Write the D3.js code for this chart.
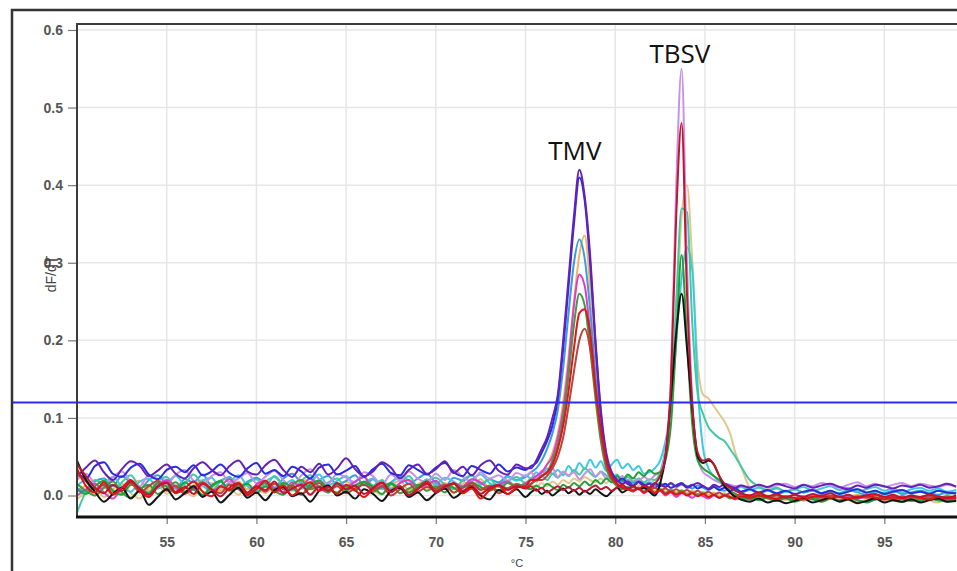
<!DOCTYPE html>
<html>
<head>
<meta charset="utf-8">
<script src="https://cdn.jsdelivr.net/npm/d3@7"></script>
<style>
  body { margin: 0; background: #fff; }
  svg { display: block; }
</style>
</head>
<body>
<svg id="viz"></svg>
<script>
// melt temperatures (°C), shared by every well; finer steps around the peaks
const temps = [
  50, 50.5, 51, 51.5, 52, 52.5, 53, 53.5, 54, 54.5,
  55, 55.5, 56, 56.5, 57, 57.5, 58, 58.5, 59, 59.5,
  60, 60.5, 61, 61.5, 62, 62.5, 63, 63.5, 64, 64.5,
  65, 65.5, 66, 66.5, 67, 67.5, 68, 68.5, 69, 69.5,
  70, 70.5, 71, 71.5, 72, 72.5, 73, 73.5, 74, 74.5,
  75, 75.3, 75.6, 75.9, 76.2, 76.5, 76.8, 77.1, 77.4, 77.7,
  78, 78.3, 78.6, 78.9, 79.2, 79.5, 79.8, 80.1, 80.4, 80.7,
  81, 81.3, 81.6, 81.9, 82.2, 82.5, 82.8, 83.1, 83.4, 83.7,
  84, 84.3, 84.6, 84.9, 85.2, 85.5, 85.8, 86.1, 86.4, 86.7,
  87, 87.5, 88, 88.5, 89, 89.5, 90, 90.5, 91, 91.5,
  92, 92.5, 93, 93.5, 94, 94.5, 95, 95.5, 96, 96.5,
  97, 97.5, 98, 98.5, 99
];

// dF/dT per well
// TMV wells (peak ~78 °C)
const blue = [
  .030,.022,.038,.043,.028,.024,.036,.041,.027,.021,
  .033,.037,.030,.039,.026,.031,.040,.029,.024,.035,
  .042,.028,.033,.025,.037,.031,.022,.036,.040,.027,
  .032,.038,.024,.034,.041,.029,.026,.039,.033,.027,
  .036,.042,.030,.025,.038,.033,.028,.040,.031,.036,
  .033,.038,.042,.055,.070,.090,.125,.190,.270,.350,
  .410,.380,.300,.195,.105,.050,.028,.018,.022,.015,
  .012,.018,.014,.010,.016,.012,.015,.010,.013,.016,
  .011,.014,.009,.012,.008,.011,.007,.010,.006,.009,
  .005,.008,.004,.007,.003,.006,.002,.005,.007,.003,
  .006,.002,.005,.008,.004,.006,.002,.005,.007,.003,
  .005,.002,.006,.004,.003
];
const purple = [
  .024,.036,.045,.030,.020,.034,.044,.038,.025,.032,
  .040,.028,.022,.035,.043,.033,.026,.038,.045,.031,
  .027,.039,.046,.033,.024,.037,.030,.041,.027,.035,
  .048,.034,.025,.031,.043,.036,.022,.033,.040,.028,
  .034,.044,.029,.037,.026,.039,.045,.032,.027,.040,
  .035,.035,.045,.060,.075,.100,.130,.200,.280,.360,
  .420,.385,.310,.200,.110,.055,.030,.020,.015,.018,
  .013,.017,.012,.015,.010,.014,.011,.016,.012,.015,
  .010,.013,.016,.012,.009,.014,.011,.015,.012,.010,
  .013,.010,.014,.011,.015,.012,.009,.014,.010,.013,
  .015,.011,.008,.013,.010,.014,.012,.009,.013,.011,
  .014,.010,.012,.015,.011
];
const lightBlue = [
  .010,.005,.018,.022,.012,.025,.016,.008,.020,.026,
  .014,.009,.021,.017,.027,.013,.019,.024,.011,.018,
  .023,.015,.010,.022,.028,.016,.012,.020,.025,.014,
  .019,.026,.013,.021,.010,.017,.024,.015,.022,.028,
  .016,.011,.023,.019,.026,.014,.021,.017,.025,.020,
  .024,.030,.035,.045,.060,.080,.110,.165,.235,.300,
  .330,.305,.240,.155,.085,.045,.030,.022,.018,.020,
  .016,.019,.014,.017,.013,.016,.012,.015,.011,.014,
  .012,.009,.013,.010,.007,.011,.008,.006,.010,.007,
  .004,.007,.003,.006,.002,.005,.008,.004,.006,.002,
  .005,.003,.007,.004,.001,.005,.003,.006,.002,.004,
  .006,.003,.001,.004,.002
];
const tan = [
  .005,.012,.000,.016,.008,.002,.014,.019,.006,.011,
  .017,.009,.004,.013,.020,.010,.007,.015,.018,.008,
  .012,.019,.006,.014,.009,.017,.021,.011,.005,.013,
  .018,.010,.015,.022,.008,.013,.019,.007,.014,.020,
  .011,.016,.009,.018,.013,.021,.010,.015,.019,.012,
  .016,.020,.025,.030,.040,.055,.080,.120,.180,.250,
  .310,.335,.270,.180,.100,.050,.028,.018,.012,.010,
  .008,.011,.007,.010,.006,.009,.005,.008,.004,.007,
  .003,.006,.002,.005,.001,.004,.000,.003,-.001,.002,
  -.002,.001,-.003,.000,-.004,-.001,-.005,-.002,.000,-.003,
  -.001,-.004,-.002,.001,-.003,-.005,-.002,.000,-.004,-.001,
  -.003,.000,-.004,-.002,-.001
];
const magenta = [
  .000,.008,.015,.004,-.004,.010,.018,.007,.001,.013,
  .020,.011,.003,.009,.016,.006,.012,.021,.008,.002,
  .014,.019,.009,.005,.017,.012,.022,.010,.004,.015,
  .011,.018,.024,.009,.013,.007,.016,.020,.010,.014,
  .019,.008,.015,.012,.021,.017,.009,.014,.018,.011,
  .016,.020,.025,.030,.040,.050,.075,.110,.170,.245,
  .285,.270,.210,.135,.075,.040,.025,.015,.010,.008,
  .005,.009,.003,.007,.002,.006,.000,.004,-.002,.003,
  .001,-.003,.002,-.001,-.004,.000,-.003,.001,-.002,-.005,
  -.001,-.004,.000,-.003,-.006,-.002,-.004,-.001,-.005,-.002,
  -.003,-.006,-.001,-.004,-.002,-.005,-.003,.000,-.004,-.002,
  -.005,-.001,-.003,-.006,-.002
];
const green = [
  .015,.006,.000,.010,.018,.004,-.003,.008,.014,.002,
  .009,.017,.005,.012,.001,.011,.019,.007,.013,.003,
  .010,.016,.006,.001,.014,.020,.008,.012,.004,.015,
  .007,.013,.018,.005,.011,.016,.003,.009,.014,.006,
  .012,.004,.015,.010,.017,.008,.013,.006,.016,.011,
  .014,.015,.020,.025,.030,.045,.065,.100,.155,.220,
  .260,.245,.190,.125,.070,.035,.020,.012,.008,.011,
  .007,.010,.005,.009,.004,.008,.003,.007,.002,.006,
  .001,.004,.000,.003,-.002,.001,-.003,.000,-.004,-.001,
  -.005,-.002,-.006,-.003,-.007,-.004,-.008,-.005,-.003,-.006,
  -.004,-.007,-.003,-.006,-.008,-.005,-.002,-.006,-.004,-.007,
  -.005,-.003,-.006,-.004,-.007
];
const red = [
  .035,.012,.004,.017,.002,.010,.020,.006,-.002,.011,
  .016,.003,.009,.018,.005,-.001,.012,.007,.015,.001,
  .008,.019,.004,.013,.000,.010,.017,.006,.011,.002,
  .014,.007,-.002,.009,.016,.004,.012,.001,.008,.018,
  .005,.011,.015,.003,.009,-.004,.007,.013,.002,.010,
  .012,.020,.020,.025,.030,.040,.060,.090,.135,.190,
  .235,.240,.210,.140,.085,.045,.025,.015,.010,.008,
  .006,.009,.004,.008,.003,.007,.002,.005,.001,.004,
  .000,.003,-.001,.002,-.002,.001,-.003,.000,-.002,-.004,
  -.001,-.003,.000,-.002,-.004,-.001,-.003,-.005,-.002,.000,
  -.003,-.001,-.004,-.002,.000,-.003,-.005,-.002,-.004,-.001,
  -.003,-.005,-.002,-.004,-.003
];
const brownRed = [
  .028,.018,.008,.014,.001,.009,.016,.004,.012,.019,
  .006,.013,.002,.010,.017,.008,.003,.014,.009,.000,
  .011,.005,.015,.008,.013,.002,.010,.016,.006,.012,
  .003,.009,.014,.007,.012,.000,.008,.015,.005,.011,
  .009,.014,.004,.010,.016,.007,.012,.003,.009,.014,
  .010,.015,.020,.020,.025,.035,.050,.075,.115,.160,
  .200,.215,.190,.135,.080,.040,.022,.014,.011,.009,
  .012,.008,.011,.007,.010,.006,.009,.005,.008,.004,
  .007,.003,.006,.002,.005,.001,.004,.000,.003,-.001,
  .002,-.002,.001,-.003,.000,-.002,.001,-.004,-.001,-.003,
  .000,-.002,-.004,-.001,-.003,.000,-.002,-.004,-.001,-.003,
  -.002,.000,-.003,-.001,-.004
];
// TBSV wells (peak ~83.7 °C)
const lavender = [
  .020,.028,.015,.010,.024,.031,.018,.012,.026,.021,
  .014,.027,.033,.019,.013,.025,.030,.017,.022,.029,
  .016,.024,.032,.020,.011,.026,.034,.021,.015,.028,
  .023,.017,.030,.025,.014,.027,.019,.031,.022,.016,
  .028,.020,.033,.024,.018,.030,.022,.026,.019,.029,
  .025,.030,.022,.032,.027,.035,.024,.031,.026,.030,
  .021,.028,.034,.025,.030,.022,.027,.020,.025,.018,
  .023,.019,.024,.020,.026,.030,.060,.150,.400,.550,
  .300,.120,.050,.030,.025,.020,.017,.015,.014,.012,
  .013,.011,.014,.010,.013,.015,.011,.014,.012,.016,
  .013,.010,.014,.017,.012,.015,.011,.014,.016,.012,
  .015,.013,.011,.014,.012
];
const crimson = [
  .040,.025,.010,.003,.014,.006,.018,.009,.001,.012,
  .017,.005,.011,.002,.015,.008,-.001,.010,.016,.004,
  .012,.007,.018,.003,.009,.014,.001,.011,.006,.016,
  .008,.013,.002,.010,.017,.005,.012,.000,.009,.015,
  .004,.011,.016,.006,.013,.002,.010,.014,.007,.012,
  .009,.012,.006,.010,.004,.008,.012,.007,.011,.006,
  .010,.005,.009,.013,.008,.011,.006,.010,.014,.009,
  .012,.008,.013,.010,.015,.025,.050,.140,.360,.480,
  .260,.115,.055,.045,.047,.040,.025,.015,.010,.006,
  .003,.000,.004,-.001,.002,-.003,.001,-.002,.002,-.001,
  .003,-.002,.001,-.003,.000,.002,-.002,.001,-.003,.000,
  -.002,.001,-.001,-.003,.000
];
const seaGreen = [
  -.022,.005,.020,.012,.003,.017,.026,.010,.004,.019,
  .024,.009,.015,.027,.013,.006,.018,.023,.008,.016,
  .021,.011,.025,.014,.007,.019,.026,.012,.017,.022,
  .010,.018,.024,.013,.020,.009,.016,.025,.012,.019,
  .023,.014,.008,.020,.026,.015,.021,.011,.018,.024,
  .016,.022,.018,.026,.020,.028,.023,.030,.025,.033,
  .027,.035,.029,.024,.031,.026,.021,.027,.019,.024,
  .018,.022,.017,.021,.020,.030,.060,.120,.250,.370,
  .365,.220,.130,.105,.088,.080,.074,.070,.060,.050,
  .038,.020,.012,.007,.010,.005,.008,.004,.007,.003,
  .006,.002,.005,.008,.003,.006,.001,.004,.007,.002,
  .005,.003,.006,.002,.004
];
const cyan = [
  .012,.020,.008,.015,.024,.011,.005,.018,.022,.009,
  .016,.025,.013,.007,.019,.023,.010,.017,.026,.012,
  .006,.018,.024,.014,.020,.009,.016,.027,.013,.019,
  .025,.011,.017,.022,.008,.015,.026,.019,.012,.021,
  .014,.023,.018,.010,.020,.027,.016,.012,.024,.019,
  .026,.022,.030,.024,.035,.028,.033,.026,.038,.030,
  .042,.034,.046,.036,.044,.032,.040,.046,.035,.041,
  .033,.038,.028,.030,.035,.045,.070,.110,.200,.280,
  .320,.290,.140,.060,.035,.025,.018,.012,.010,.008,
  .011,.007,.010,.006,.009,.005,.008,.011,.006,.009,
  .012,.007,.010,.005,.008,.011,.006,.009,.004,.008,
  .010,.006,.009,.005,.007
];
const green2 = [
  .008,.002,.012,.019,.006,.001,.014,.010,.003,.016,
  .011,.004,.017,.008,.000,.013,.018,.006,.010,.015,
  .003,.012,.007,.016,.010,.001,.014,.019,.008,.004,
  .013,.006,.017,.011,.002,.015,.009,.004,.012,.018,
  .007,.014,.010,.003,.016,.011,.006,.013,.009,.015,
  .010,.008,.013,.009,.015,.011,.007,.014,.010,.016,
  .012,.018,.013,.020,.015,.022,.017,.025,.019,.027,
  .022,.030,.025,.033,.028,.030,.045,.090,.200,.310,
  .200,.090,.045,.035,.030,.025,.020,.012,.006,.002,
  -.002,-.005,-.001,-.004,-.007,-.003,-.006,-.002,-.005,-.008,
  -.004,-.007,-.003,-.006,-.009,-.005,-.002,-.006,-.008,-.004,
  -.007,-.003,-.006,-.008,-.005
];
const wheat = [
  -.005,.004,.010,-.002,.008,.015,.003,-.004,.009,.013,
  .002,.011,.006,-.001,.012,.016,.005,.009,.001,.014,
  .008,.003,.013,.017,.006,.010,.002,.012,.007,.015,
  .004,.011,.016,.007,.001,.013,.009,.005,.014,.010,
  .006,.012,.003,.015,.009,.004,.011,.016,.008,.013,
  .010,.014,.011,.016,.012,.018,.014,.020,.016,.022,
  .018,.024,.020,.017,.022,.016,.021,.015,.019,.014,
  .018,.013,.017,.015,.020,.025,.050,.100,.220,.360,
  .400,.300,.170,.130,.125,.115,.105,.095,.080,.055,
  .038,.010,.002,-.004,.000,-.006,-.002,-.007,-.003,-.008,
  -.004,-.001,-.006,-.009,-.005,-.002,-.007,-.004,-.008,-.005,
  -.002,-.006,-.009,-.004,-.007
];
const black = [
  .045,.020,.005,-.008,.002,.010,-.004,.006,-.012,-.002,
  .008,-.005,.003,.012,-.002,.005,-.009,.001,.010,-.003,
  .004,-.006,.007,.011,-.001,.003,-.008,.006,.013,.000,
  .005,-.004,.008,.002,-.007,.006,.010,-.002,.004,-.006,
  .003,.009,-.003,.005,.011,.000,-.005,.007,.002,.008,
  -.002,.004,.008,.002,.006,.000,.005,.009,.003,.007,
  .001,.006,.002,.008,.003,-.001,.005,.010,.004,.008,
  .012,.008,.010,.005,.000,.015,.050,.125,.210,.260,
  .190,.110,.050,.042,.045,.040,.025,.012,.004,-.002,
  -.005,-.008,-.004,-.009,-.006,-.010,-.007,-.004,-.009,-.006,
  -.003,-.008,-.005,-.010,-.007,-.004,-.009,-.006,-.008,-.005,
  -.009,-.006,-.004,-.008,-.007
];

const xTicks = [55, 60, 65, 70, 75, 80, 85, 90, 95];
const yTicks = [0, 0.1, 0.2, 0.3, 0.4, 0.5, 0.6];
const threshold = 0.12;
const peakNames = ['TMV', 'TBSV'];
const peakTemps = [77.75, 83.6];
const peakLabelValues = [0.432, 0.558];

(function () {
  'use strict';

  const width = 957;
  const height = 571;
  const plot = { left: 77, top: 24, right: 957, bottom: 517 };

  // draw order: last on top
  const wells = [
    { values: wheat, color: '#e3c68d' },
    { values: tan, color: '#f0b466' },
    { values: lightBlue, color: '#3a9be2' },
    { values: cyan, color: '#3cc9e2' },
    { values: seaGreen, color: '#3ecba2' },
    { values: lavender, color: '#c691e6' },
    { values: magenta, color: '#e03ccc' },
    { values: green, color: '#3c9c40' },
    { values: green2, color: '#22a03a' },
    { values: blue, color: '#2a2ae0' },
    { values: purple, color: '#6420b8' },
    { values: brownRed, color: '#b5463e' },
    { values: black, color: '#141414' },
    { values: red, color: '#e21414' },
    { values: crimson, color: '#c2142e' }
  ];

  const svg = d3.select('#viz')
    .attr('width', width)
    .attr('height', height)
    .style('font-family', '"Liberation Sans", Arial, sans-serif');

  svg.append('rect')
    .attr('width', width)
    .attr('height', height)
    .attr('fill', '#fff');

  const x = d3.scaleLinear()
    .domain([50, 99.05])
    .range([plot.left, plot.right]);
  const y = d3.scaleLinear()
    .domain([-0.0277, 0.6077])
    .range([plot.bottom, plot.top]);

  // grid
  const grid = svg.append('g').attr('stroke', '#e6e6e6').attr('stroke-width', 1.5);
  grid.selectAll('.vgrid')
    .data(xTicks)
    .join('line')
      .attr('class', 'vgrid')
      .attr('x1', d => x(d))
      .attr('x2', d => x(d))
      .attr('y1', plot.top)
      .attr('y2', plot.bottom);
  grid.selectAll('.hgrid')
    .data(yTicks)
    .join('line')
      .attr('class', 'hgrid')
      .attr('x1', plot.left)
      .attr('x2', plot.right)
      .attr('y1', d => y(d))
      .attr('y2', d => y(d));

  // axes
  const yAxis = d3.axisLeft(y)
    .tickValues(yTicks)
    .tickFormat(d3.format('.1f'))
    .tickSize(9)
    .tickPadding(5);
  const xAxis = d3.axisBottom(x)
    .tickValues(xTicks)
    .tickFormat(d3.format('d'))
    .tickSize(7)
    .tickPadding(13);

  svg.append('g')
    .attr('transform', `translate(${plot.left},0)`)
    .call(yAxis)
    .call(g => g.select('.domain').remove());
  svg.append('g')
    .attr('transform', `translate(0,${plot.bottom})`)
    .call(xAxis)
    .call(g => g.select('.domain').remove());

  svg.selectAll('.tick line').attr('stroke', '#777').attr('stroke-width', 1.2);
  svg.selectAll('.tick text')
    .attr('fill', '#555')
    .style('font-size', '14px')
    .style('font-weight', 'bold')
    .style('font-family', '"Liberation Sans", Arial, sans-serif');

  // curves
  svg.append('clipPath')
    .attr('id', 'plot-clip')
    .append('rect')
      .attr('x', plot.left)
      .attr('y', plot.top)
      .attr('width', plot.right - plot.left)
      .attr('height', plot.bottom - plot.top);

  const line = d3.line()
    .defined(d => d != null)
    .x((d, i) => x(temps[i]))
    .y(d => y(d))
    .curve(d3.curveMonotoneX);

  svg.append('g')
    .attr('clip-path', 'url(#plot-clip)')
    .selectAll('path')
    .data(wells)
    .join('path')
      .attr('d', d => line(d.values))
      .attr('fill', 'none')
      .attr('stroke', d => d.color)
      .attr('stroke-width', 2)
      .attr('stroke-linejoin', 'round');

  // threshold
  svg.append('line')
    .attr('x1', 12)
    .attr('x2', width)
    .attr('y1', y(threshold))
    .attr('y2', y(threshold))
    .attr('stroke', '#2a2af2')
    .attr('stroke-width', 2);

  // plot frame
  svg.append('path')
    .attr('d', `M${plot.left},${plot.bottom} V${plot.top} H${plot.right}`)
    .attr('fill', 'none')
    .attr('stroke', '#3c3c3c')
    .attr('stroke-width', 2);
  svg.append('line')
    .attr('x1', plot.left - 1)
    .attr('x2', plot.right)
    .attr('y1', plot.bottom)
    .attr('y2', plot.bottom)
    .attr('stroke', '#111')
    .attr('stroke-width', 3);

  // outer picture border
  svg.append('path')
    .attr('d', `M12,${height} V10 H${width}`)
    .attr('fill', 'none')
    .attr('stroke', '#333')
    .attr('stroke-width', 2.5);

  // axis titles
  svg.append('text')
    .attr('x', (plot.left + plot.right) / 2)
    .attr('y', 567)
    .attr('text-anchor', 'middle')
    .attr('fill', '#444')
    .style('font-size', '11px')
    .text('°C');

  svg.append('text')
    .attr('transform', 'translate(56,274) rotate(-90)')
    .attr('text-anchor', 'middle')
    .attr('fill', '#444')
    .style('font-size', '14px')
    .text('dF/dT');

  // peak names
  svg.selectAll('.peak-name')
    .data(peakNames)
    .join('text')
      .attr('class', 'peak-name')
      .attr('x', (d, i) => x(peakTemps[i]))
      .attr('y', (d, i) => y(peakLabelValues[i]))
      .attr('text-anchor', 'middle')
      .attr('fill', '#111')
      .style('font-family', '"Open Sans", sans-serif')
      .style('font-size', '26px')
      .text(d => d);
}());
</script>
</body>
</html>
